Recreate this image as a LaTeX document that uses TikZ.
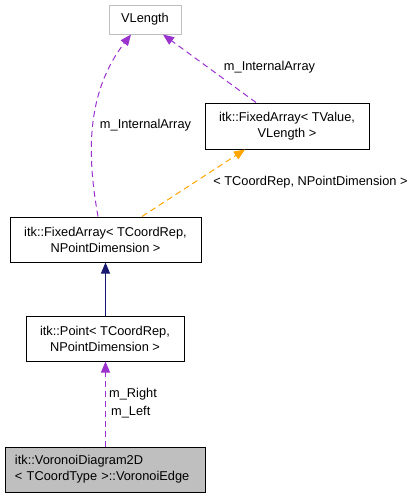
\documentclass[tikz,border=0pt]{standalone}
\usepackage{fontspec}
\setmainfont{Liberation Sans}
\usetikzlibrary{arrows.meta}
\definecolor{edgepurple}{HTML}{9A32CD}
\definecolor{edgenavy}{HTML}{191970}
\definecolor{edgeorange}{HTML}{FFA500}
\definecolor{leafgray}{HTML}{BFBFBF}
\tikzset{
  box/.style={draw=black, line width=1pt, inner sep=0pt, align=center,
    font=\fontsize{12.8}{16}\selectfont},
  graybox/.style={box, draw=leafgray},
  lbl/.style={font=\fontsize{12.8}{16}\selectfont, inner sep=0pt},
  tip/.style={-{Triangle[length=11pt,width=9pt]}},
  usage/.style={tip, draw=edgepurple, line width=1pt, dash pattern=on 6pt off 4pt},
  inherit/.style={tip, draw=edgenavy, line width=1pt},
  templ/.style={tip, draw=edgeorange, line width=1pt, dash pattern=on 6pt off 4pt},
}
\begin{document}
\begin{tikzpicture}[x=1pt,y=-1pt]
\useasboundingbox (0,0) rectangle (417,499);
\node[graybox, minimum width=72pt, minimum height=29pt] (vl) at (145,19.5) {VLength};
\node[box, minimum width=164pt, minimum height=46pt] (fatv) at (287,126) {itk::FixedArray< TValue,\\VLength >};
\node[box, minimum width=191pt, minimum height=45pt] (facr) at (105.5,239.5) {itk::FixedArray< TCoordRep,\\NPointDimension >};
\node[box, minimum width=158pt, minimum height=45pt] (pt) at (105,338.5) {itk::Point< TCoordRep,\\NPointDimension >};
\node[box, fill=leafgray, minimum width=200pt, minimum height=45pt, text width=180pt, align=left] (ve) at (105,469.5) {itk::VoronoiDiagram2D\\< TCoordType >::VoronoiEdge};

\draw[inherit] ([xshift=0.5pt]pt.north) -- ([xshift=0.5pt]pt.north |- facr.south);
\draw[usage] ([xshift=0.5pt]ve.north) -- ([xshift=0.5pt]pt.south);
\node[lbl, anchor=west] (lr) at (109,394) {m\_Right};
\node[lbl, anchor=west] (ll) at (111,412) {m\_Left};

\draw[templ] ([xshift=36.5pt]facr.north) -- ([xshift=-42pt]fatv.south);
\node[lbl] (ltp) at (310.5,182) {< TCoordRep, NPointDimension >};

\draw[usage] ([xshift=-7.5pt]facr.north) .. controls (88,160) and (84,95) .. ([xshift=-14pt]vl.south);
\node[lbl] (lia1) at (145.5,125) {m\_InternalArray};

\draw[usage] ([xshift=-31pt]fatv.north) -- ([xshift=18pt]vl.south);
\node[lbl] (lia2) at (269.5,67) {m\_InternalArray};
\end{tikzpicture}
\end{document}
